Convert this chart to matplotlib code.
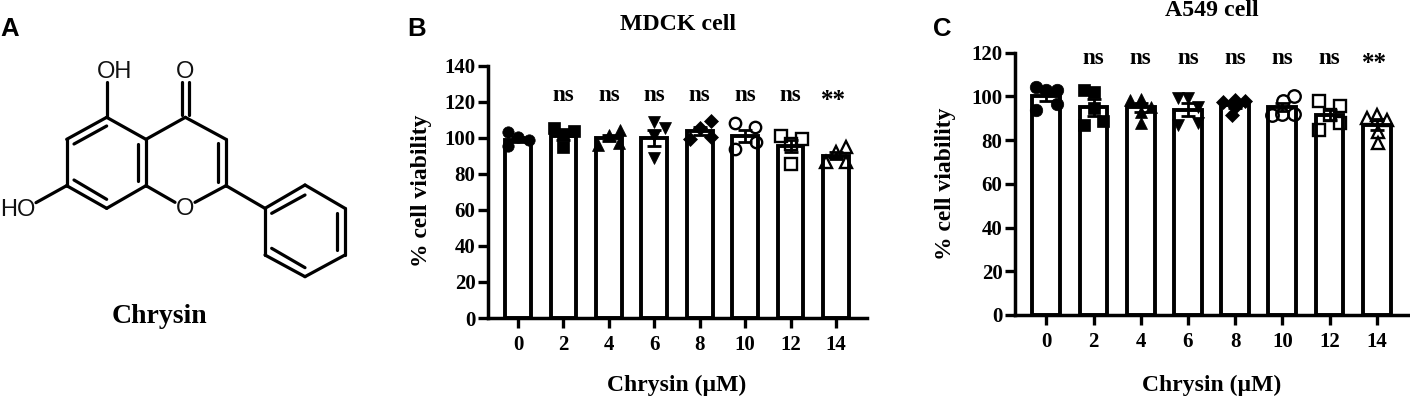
import matplotlib
matplotlib.use("Agg")
import matplotlib.pyplot as plt

W, H = 1410, 397
SERIF = "Liberation Serif"
SANS = "Liberation Sans"

doses = [0, 2, 4, 6, 8, 10, 12, 14]
dose_pos = [0, 2, 4, 6, 8, 10, 12, 14]
marks = [""] + ["ns"] * 6 + ["**"]
markers = ["o", "s", "^", "v", "D", "o", "s", "^"]
open_marker = [False] * 5 + [True] * 3

mdck_means = [99, 101, 100, 100, 104, 101, 95.5, 90]
mdck_sem = [1.5, 2.4, 1.8, 4.3, 2.2, 3.5, 3.5, 2.0]
mdck_points = [
    [103, 100.2, 98.7, 95.5],
    [105.2, 103.7, 101.9, 94.7],
    [104.3, 101.5, 96, 96.9],
    [108.5, 105.6, 101, 88.9],
    [109.2, 105.6, 99.6, 100.5],
    [108, 106, 93.7, 97.4],
    [101, 99.3, 96.3, 85.2],
    [94.7, 92.2, 86.3, 86.3],
]
mdck_offsets = [
    [-0.44, 0, 0.48, -0.44],
    [-0.42, 0.45, 0, 0],
    [0.48, 0, -0.48, 0.45],
    [0, 0.45, 0, 0],
    [0.48, 0, -0.42, 0.5],
    [-0.45, 0.45, -0.45, 0.48],
    [-0.4, 0.5, 0, 0],
    [0.45, 0, -0.42, 0.45],
]

a549_means = [100, 95, 95, 94, 96, 95, 91.5, 87]
a549_sem = [2.0, 3.8, 2.0, 3.0, 1.2, 1.8, 2.5, 2.5]
a549_points = [
    [104.3, 103, 103, 93.8, 96.4],
    [103, 102, 94.6, 86.9, 88.8],
    [98.3, 99, 95.3, 87.7, 93],
    [99.4, 99.4, 95.2, 86.9, 87.7],
    [98.3, 97.6, 97.9, 91.5, 95.3],
    [100.2, 98, 91.5, 91.8, 92],
    [97.9, 95.7, 84.6, 87.7, 91.5],
    [90, 91.5, 89.2, 78.5, 83.9],
]
a549_offsets = [
    [-0.45, 0, 0.45, -0.42, 0.45],
    [-0.4, 0, 0, -0.4, 0.4],
    [-0.45, 0, 0.45, 0, 0],
    [-0.42, 0, 0.42, -0.42, 0.42],
    [0, -0.5, 0.42, -0.14, 0],
    [0.48, 0.05, -0.45, 0.48, 0],
    [-0.44, 0.45, -0.44, 0.45, 0],
    [-0.42, 0, 0.45, 0.05, 0.05],
]

# Chrysin skeleton drawing, in a 1200 x 1191 drawing space
mol_bonds = [
    ((320, 352), (438, 418)), ((438, 418), (438, 557)), ((438, 557), (320, 625)),
    ((320, 625), (200, 557)), ((200, 557), (200, 418)), ((200, 418), (320, 352)),
    ((438, 418), (556, 352)), ((556, 352), (678, 418)), ((678, 418), (678, 557)),
    ((438, 557), (525, 607)), ((585, 607), (678, 557)),
    ((320, 352), (320, 245)), ((200, 557), (108, 608)),
    ((545, 345), (545, 245)), ((568, 345), (568, 245)),
    ((678, 557), (795, 625)), ((795, 625), (915, 555)), ((915, 555), (1035, 625)),
    ((1035, 625), (1035, 765)), ((1035, 765), (915, 830)), ((915, 830), (795, 765)),
    ((795, 765), (795, 625)),
    ((222, 432), (320, 378)), ((222, 540), (320, 598)), ((415, 432), (415, 543)),
    ((655, 428), (655, 545)), ((815, 640), (915, 585)), ((1010, 640), (1010, 750)),
    ((815, 745), (915, 803)),
]
mol_labels = [("OH", 343, 215), ("O", 555, 215), ("O", 555, 628), ("HO", 52, 630)]

fig = plt.figure(figsize=(W / 100, H / 100), dpi=100, facecolor="white")


def px_text(x, y, s, **kw):
    return fig.text(x / W, 1 - y / H, s, **kw)


def panel(left, right, top, bottom, x0, ymax, yticks, means, sem, points, offsets,
          barw, ms, ns_y, star_y, title, title_x, title_y, xl_x, yl_x, yl_y):
    ax = fig.add_axes([left / W, 1 - bottom / H, (right - left) / W, (bottom - top) / H])
    ax.patch.set_alpha(0)
    unit = (x0[1] - x0[0]) / 14
    ax.set_xlim((left - x0[0]) / unit, (right - x0[0]) / unit)
    ax.set_ylim(0, ymax)
    ax.bar(dose_pos, means, width=barw, facecolor="white", edgecolor="black",
           linewidth=2.8, zorder=2)
    ax.errorbar(dose_pos, means, yerr=sem, fmt="none", ecolor="black", elinewidth=2.0,
                capsize=4.7, capthick=2.0, zorder=3)
    for i, d in enumerate(dose_pos):
        xs = [d + o for o in offsets[i]]
        size = ms * 0.82 if markers[i] == "D" else ms
        ax.plot(xs, points[i], ls="none", marker=markers[i], ms=size,
                mfc="none" if open_marker[i] else "black", mec="black",
                mew=1.7 if open_marker[i] else 0.5, zorder=4, clip_on=False)
        if marks[i] == "ns":
            ax.text(d, ns_y, "ns", ha="center", va="baseline", family=SERIF,
                    weight="bold", fontsize=16.5)
        elif marks[i]:
            ax.text(d - 0.1, star_y, "**", ha="center", va="baseline", family=SERIF,
                    weight="bold", fontsize=18)
    for s in ("top", "right"):
        ax.spines[s].set_visible(False)
    for s in ("left", "bottom"):
        ax.spines[s].set_linewidth(2.5)
    ax.set_xticks(dose_pos, [str(d) for d in doses])
    ax.set_yticks(yticks)
    ax.tick_params(axis="both", width=2.4, length=7.5)
    ax.tick_params(axis="x", pad=5)
    ax.tick_params(axis="y", pad=1.5)
    for lab in ax.get_xticklabels() + ax.get_yticklabels():
        lab.set_family(SERIF)
        lab.set_weight("bold")
        lab.set_fontsize(15)
    ax.set_xlabel("Chrysin (µM)", family=SERIF, weight="bold", fontsize=17, va="baseline")
    ax.xaxis.set_label_coords(xl_x / W, 1 - 391 / H, transform=fig.transFigure)
    ax.set_ylabel("% cell viability", family=SERIF, weight="bold", fontsize=17, va="center")
    ax.yaxis.set_label_coords(yl_x / W, 1 - yl_y / H, transform=fig.transFigure)
    px_text(title_x, title_y, title, family=SERIF, weight="bold", fontsize=17.2,
            ha="center", va="baseline")
    return ax


panel(488, 867, 65.7, 318, (518, 518 + 318), 140, list(range(0, 141, 20)),
      mdck_means, mdck_sem, mdck_points, mdck_offsets, 1.13, 8.2, 120.3, 117,
      "MDCK cell", 678, 30.5, 677, 421, 191)
panel(1015, 1409, 52.7, 315, (1046.3, 1376.7), 120, list(range(0, 121, 20)),
      a549_means, a549_sem, a549_points, a549_offsets, 1.18, 9, 115, 112,
      "A549 cell", 1212, 15.5, 1212, 946, 184)

# Panel A: structure
mol = fig.add_axes([0, 0, 400 / W, 1], facecolor="none")
mol.set_xlim(0, 1200)
mol.set_ylim(1191, 0)
mol.axis("off")
for (a, b) in mol_bonds:
    mol.plot([a[0], b[0]], [a[1], b[1]], color="black", lw=2.3, solid_capstyle="round")
for s, x, y in mol_labels:
    mol.text(x, y, s, ha="center", va="center", family=SANS, fontsize=17, color="#111111")
px_text(159, 322.7, "Chrysin", family=SERIF, weight="bold", fontsize=20, ha="center", va="baseline")

# Panel letters
for s, x, y in [("A", 0, 36.5), ("B", 407, 36.5), ("C", 933, 36.5)]:
    px_text(x, y, s, family=SANS, weight="bold", fontsize=18.5, ha="left", va="baseline")

fig.savefig("out.png", dpi=100)
